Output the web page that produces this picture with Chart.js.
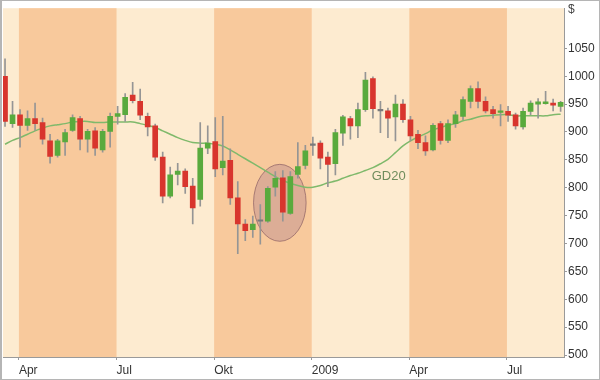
<!DOCTYPE html>
<html>
<head>
<meta charset="utf-8">
<script src="https://cdn.jsdelivr.net/npm/chart.js@4.4.0/dist/chart.umd.min.js"></script>
<style>
  html, body { margin: 0; padding: 0; background: #fff; }
</style>
</head>
<body>
<canvas id="chart" width="600" height="380"></canvas>
<script>
// weekly candles, mid-March 2008 to September 2009
const opens  = [1000, 915, 931, 912, 924, 917, 884, 858, 882, 903, 924, 887, 902, 868, 901,
                928, 931, 966, 955, 928, 911, 855, 785, 824, 830, 803, 779, 871, 883, 836,
                849, 782, 735, 725, 740, 740, 801, 818, 754, 824, 840, 876, 880, 855, 843,
                898, 924, 911, 940, 996, 938, 938, 927, 950, 922, 896, 881, 868, 915, 885,
                915, 928, 955, 978, 955, 940, 935, 937, 931, 909, 937, 950, 951, 952, 946];
const highs  = [1031, 955, 940, 938, 952, 925, 896, 887, 905, 931, 928, 905, 908, 905, 934,
                946, 969, 989, 977, 934, 914, 864, 837, 844, 834, 817, 917, 911, 926, 928,
                870, 811, 743, 749, 770, 802, 829, 831, 829, 881, 876, 891, 884, 864, 905,
                930, 928, 952, 1007, 999, 955, 943, 966, 958, 928, 903, 893, 915, 919, 922,
                937, 963, 983, 990, 963, 946, 949, 946, 934, 943, 956, 960, 973, 959, 955];
const lows   = [910, 908, 873, 903, 903, 878, 844, 855, 858, 901, 868, 864, 858, 864, 873,
                914, 919, 952, 922, 893, 849, 773, 782, 805, 790, 735, 767, 861, 820, 823,
                770, 682, 705, 711, 699, 738, 785, 740, 752, 817, 834, 858, 834, 802, 823,
                876, 887, 890, 937, 925, 899, 890, 884, 917, 884, 870, 858, 866, 878, 881,
                908, 922, 943, 943, 934, 925, 911, 919, 905, 905, 931, 925, 950, 938, 937];
const closes = [919, 931, 912, 924, 915, 887, 856, 884, 899, 926, 887, 901, 871, 901, 928,
                933, 962, 956, 930, 909, 855, 785, 823, 830, 802, 764, 871, 880, 834, 848,
                782, 735, 723, 735, 740, 799, 817, 756, 820, 838, 866, 876, 853, 842, 899,
                927, 911, 940, 993, 942, 938, 925, 950, 922, 893, 881, 866, 912, 885, 915,
                931, 958, 978, 955, 938, 933, 938, 930, 911, 937, 952, 954, 954, 948, 953];
// 20-week moving average (GD20) as drawn
const gd20   = [878, 885, 890, 896, 902, 907, 911, 913, 915, 918, 919, 919, 917, 917, 918,
                918, 918, 918, 915, 912, 908, 902, 896, 890, 885, 881, 880, 880, 878, 875,
                868, 860, 852, 844, 836, 828, 820, 813, 808, 804, 801, 801, 804, 809, 812,
                817, 822, 826, 831, 836, 843, 851, 863, 875, 884, 891, 897, 904, 908, 912,
                915, 920, 923, 927, 929, 930, 931, 931, 929, 929, 929, 929, 929, 931, 932];

// quarter starts, in weeks from the first candle
const quarterStarts = [1.85, 14.85, 27.85, 40.85, 53.85, 66.85];
const quarterLabels = ['Apr', 'Jul', 'Okt', '2009', 'Apr', 'Jul'];
const priceTicks = [500, 550, 600, 650, 700, 750, 800, 850, 900, 950, 1000, 1050];

// circled turn and line label, in week / price units
const spot = { week: 36.6, price: 773, weeks: 3.5, prices: 69 };
const lineLabel = { text: 'GD20', week: 51.1, price: 820 };

const LIGHT = '#fdebd0';
const DARK = '#f8c99c';
const UP = '#59aa3d';
const DOWN = '#d8352d';
const FLAT = '#7a7a7a';

const bodyColors = opens.map((o, i) => closes[i] > o ? UP : closes[i] < o ? DOWN : FLAT);

const decor = {
  id: 'decor',
  beforeDraw(chart) {
    const { ctx, chartArea: a, scales: { x } } = chart;
    ctx.save();
    ctx.fillStyle = LIGHT;
    ctx.fillRect(a.left, a.top, a.width, a.height);
    ctx.fillStyle = DARK;
    for (let k = 0; k < quarterStarts.length; k += 2) {
      const x0 = x.getPixelForValue(quarterStarts[k]);
      const x1 = k + 1 < quarterStarts.length ? x.getPixelForValue(quarterStarts[k + 1]) : a.right;
      ctx.fillRect(x0, a.top, Math.min(x1, a.right) - x0, a.height);
    }
    ctx.restore();
  },
  beforeDatasetsDraw(chart) {
    const { ctx, scales: { x, y } } = chart;
    const cx = x.getPixelForValue(spot.week);
    const cy = y.getPixelForValue(spot.price);
    const rx = x.getPixelForValue(spot.week + spot.weeks) - cx;
    const ry = cy - y.getPixelForValue(spot.price + spot.prices);
    ctx.save();
    ctx.beginPath();
    ctx.ellipse(cx, cy, rx, ry, 0, 0, Math.PI * 2);
    ctx.fillStyle = 'rgba(170,120,140,0.35)';
    ctx.fill();
    ctx.strokeStyle = 'rgba(150,105,105,0.8)';
    ctx.lineWidth = 1;
    ctx.stroke();
    ctx.restore();
  },
  afterDraw(chart) {
    const { ctx, scales: { x, y } } = chart;
    ctx.save();
    ctx.font = '13px "Liberation Sans", Arial, sans-serif';
    ctx.fillStyle = '#6f8c5c';
    ctx.textAlign = 'center';
    ctx.textBaseline = 'middle';
    ctx.fillText(lineLabel.text, x.getPixelForValue(lineLabel.week), y.getPixelForValue(lineLabel.price));
    ctx.font = '12px "Liberation Sans", Arial, sans-serif';
    ctx.fillStyle = '#444';
    ctx.textAlign = 'left';
    ctx.fillText('$', y.left + 4, 10);
    ctx.strokeStyle = '#b5b5b5';
    ctx.lineWidth = 1;
    ctx.strokeRect(0.5, 0.5, 599, 379);
    ctx.fillStyle = '#b5b5b5';
    ctx.fillRect(0, 0, 2, 380);
    ctx.restore();
  }
};

new Chart(document.getElementById('chart'), {
  type: 'bar',
  data: {
    datasets: [
      {
        type: 'line',
        data: gd20.map((v, i) => ({ x: i, y: v })),
        borderColor: '#7fb96b',
        borderWidth: 1.5,
        pointRadius: 0,
        tension: 0.3,
        order: 3
      },
      {
        data: highs.map((h, i) => ({ x: i, y: [lows[i], h] })),
        backgroundColor: '#959595',
        barThickness: 1,
        grouped: false,
        order: 2
      },
      {
        data: opens.map((o, i) => ({ x: i, y: [o, closes[i]] })),
        backgroundColor: bodyColors,
        barThickness: 5,
        minBarLength: 1.5,
        grouped: false,
        order: 1
      }
    ]
  },
  options: {
    responsive: false,
    animation: false,
    layout: { padding: { left: 3, top: 2 } },
    plugins: { legend: { display: false }, tooltip: { enabled: false } },
    scales: {
      x: {
        type: 'linear',
        min: -0.27,
        max: 74.45,
        offset: false,
        afterBuildTicks: s => { s.ticks = quarterStarts.map(v => ({ value: v })); },
        afterFit: s => { s.height = 23; },
        ticks: {
          autoSkip: false,
          maxRotation: 0,
          align: 'start',
          padding: 3,
          color: '#333',
          font: { family: '"Liberation Sans", Arial, sans-serif', size: 12 },
          callback: (v, i) => quarterLabels[i]
        },
        grid: { drawOnChartArea: false, offset: false, tickLength: 3, color: '#9a9a9a' },
        border: { color: '#9a9a9a' }
      },
      y: {
        position: 'right',
        min: 496.5,
        max: 1122,
        afterBuildTicks: s => { s.ticks = priceTicks.map(v => ({ value: v })); },
        afterFit: s => { s.width = 36; },
        ticks: {
          padding: 1,
          color: '#333',
          font: { family: '"Liberation Sans", Arial, sans-serif', size: 12 },
          callback: v => String(v)
        },
        grid: { drawOnChartArea: false, tickLength: 3, color: '#9a9a9a' },
        border: { color: '#9a9a9a' }
      }
    }
  },
  plugins: [decor]
});
</script>
</body>
</html>
